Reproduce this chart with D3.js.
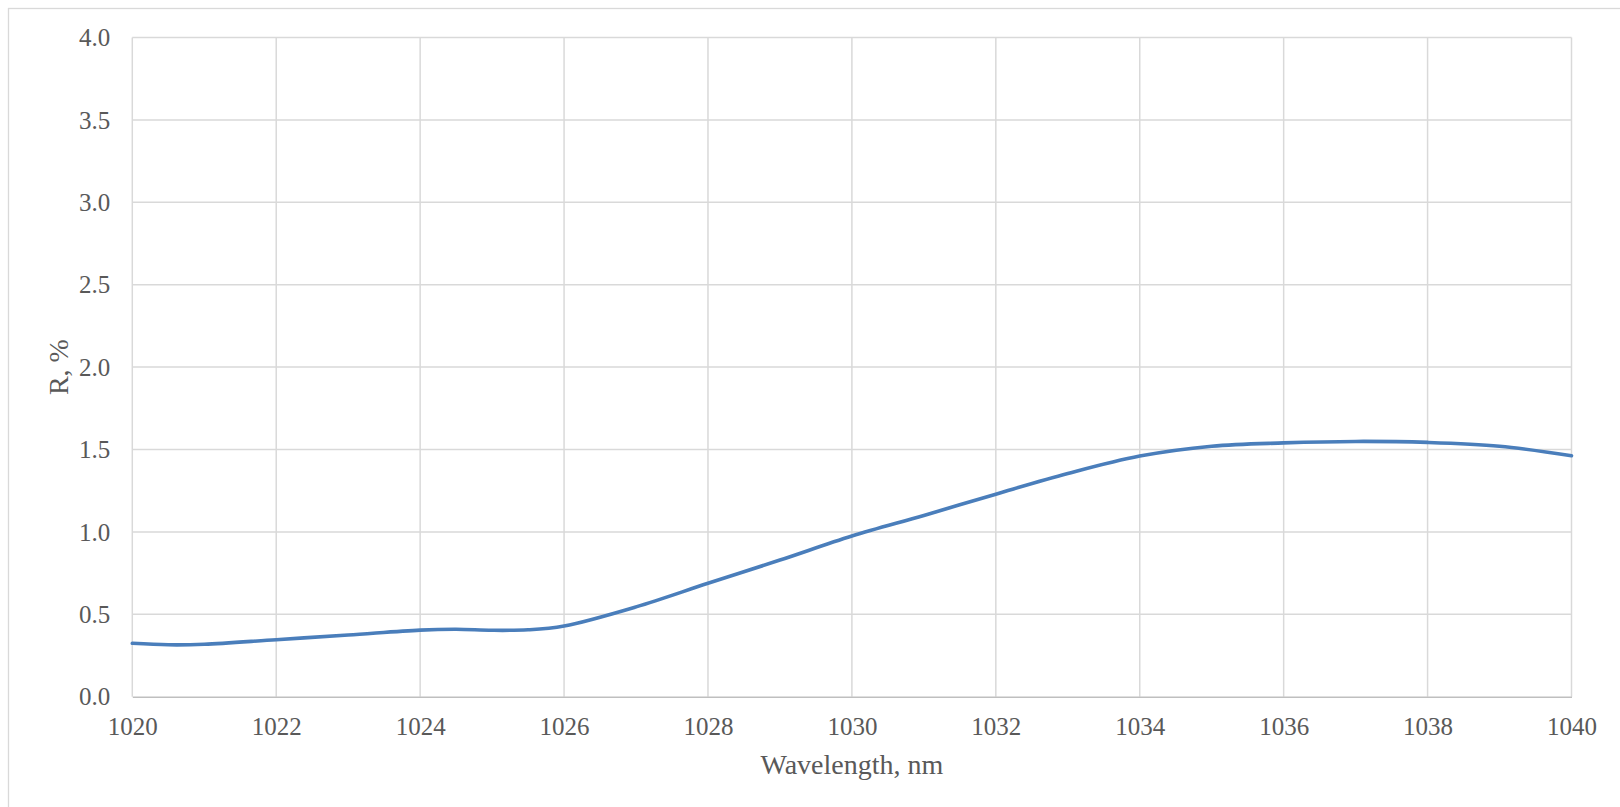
<!DOCTYPE html>
<html>
<head>
<meta charset="utf-8">
<script src="https://cdn.jsdelivr.net/npm/d3@7"></script>
<style>
  html, body { margin: 0; padding: 0; background: #ffffff; }
  svg { display: block; }
</style>
</head>
<body>
<svg id="chart" width="1620" height="807"></svg>
<script>
// ---- data ----
const wavelength = [1020, 1020.5, 1021, 1022, 1023, 1024, 1024.5, 1025, 1025.5, 1026, 1027, 1028, 1029, 1030, 1031, 1032, 1033, 1034, 1035, 1036, 1037, 1038, 1039, 1040];
const reflectance = [0.324, 0.315, 0.318, 0.346, 0.374, 0.404, 0.409, 0.403, 0.406, 0.429, 0.545, 0.688, 0.829, 0.975, 1.10, 1.229, 1.354, 1.46, 1.52, 1.54, 1.549, 1.543, 1.52, 1.462];
const xTicks = [1020, 1022, 1024, 1026, 1028, 1030, 1032, 1034, 1036, 1038, 1040];
const yTicks = [0, 0.5, 1.0, 1.5, 2.0, 2.5, 3.0, 3.5, 4.0];
const xTitle = "Wavelength, nm";
const yTitle = "R, %";

// ---- layout ----
const m = { left: 132.3, right: 1571.5, top: 37.5, bottom: 696.7 };
const font = "'Liberation Serif', 'DejaVu Serif', serif";
const textColor = "#595959";

const svg = d3.select("#chart");

// outer chart border (extends past right/bottom edge)
svg.append("rect")
  .attr("x", 8.5).attr("y", 8.5)
  .attr("width", 1700).attr("height", 900)
  .attr("fill", "#ffffff")
  .attr("stroke", "#d9d9d9").attr("stroke-width", 1.3);

const x = d3.scaleLinear().domain([1020, 1040]).range([m.left, m.right]);
const y = d3.scaleLinear().domain([0, 4]).range([m.bottom, m.top]);

// gridlines
const grid = svg.append("g");
grid.selectAll("line.v").data(xTicks).join("line")
  .attr("x1", d => x(d)).attr("x2", d => x(d))
  .attr("y1", m.top).attr("y2", m.bottom)
  .attr("stroke", "#d9d9d9").attr("stroke-width", 1.5);
grid.selectAll("line.h").data(yTicks.filter(d => d > 0)).join("line")
  .attr("x1", m.left).attr("x2", m.right)
  .attr("y1", d => y(d)).attr("y2", d => y(d))
  .attr("stroke", "#d9d9d9").attr("stroke-width", 1.5);

// x axis
const xAxis = d3.axisBottom(x).tickValues(xTicks).tickFormat(d3.format("d")).tickSize(0).tickPadding(14);
const gx = svg.append("g").attr("transform", `translate(0,${m.bottom})`).call(xAxis);
gx.select(".domain").attr("stroke", "#bfbfbf").attr("stroke-width", 1.5);
gx.selectAll("text").attr("font-family", font).attr("font-size", 25).attr("fill", textColor)
  .attr("dy", null).attr("y", 38.5);

// y axis
const yAxis = d3.axisLeft(y).tickValues(yTicks).tickFormat(d3.format(".1f")).tickSize(0).tickPadding(22);
const gy = svg.append("g").attr("transform", `translate(${m.left},0)`).call(yAxis);
gy.select(".domain").remove();
gy.selectAll("text").attr("font-family", font).attr("font-size", 25).attr("fill", textColor)
  .attr("dy", "0.33em");

// line
const line = d3.line()
  .x((d, i) => x(wavelength[i]))
  .y(d => y(d))
  .curve(d3.curveCatmullRom.alpha(0.5));
svg.append("path")
  .datum(reflectance)
  .attr("d", line)
  .attr("fill", "none")
  .attr("stroke", "#4a7ebb")
  .attr("stroke-width", 3.6)
  .attr("stroke-linecap", "round")
  .attr("stroke-linejoin", "round");

// axis titles
svg.append("text")
  .attr("x", (m.left + m.right) / 2).attr("y", 774)
  .attr("text-anchor", "middle")
  .attr("font-family", font).attr("font-size", 28).attr("fill", textColor)
  .text(xTitle);

svg.append("text")
  .attr("transform", `translate(68,${(m.top + m.bottom) / 2}) rotate(-90)`)
  .attr("text-anchor", "middle")
  .attr("font-family", font).attr("font-size", 28).attr("fill", textColor)
  .text(yTitle);
</script>
</body>
</html>
